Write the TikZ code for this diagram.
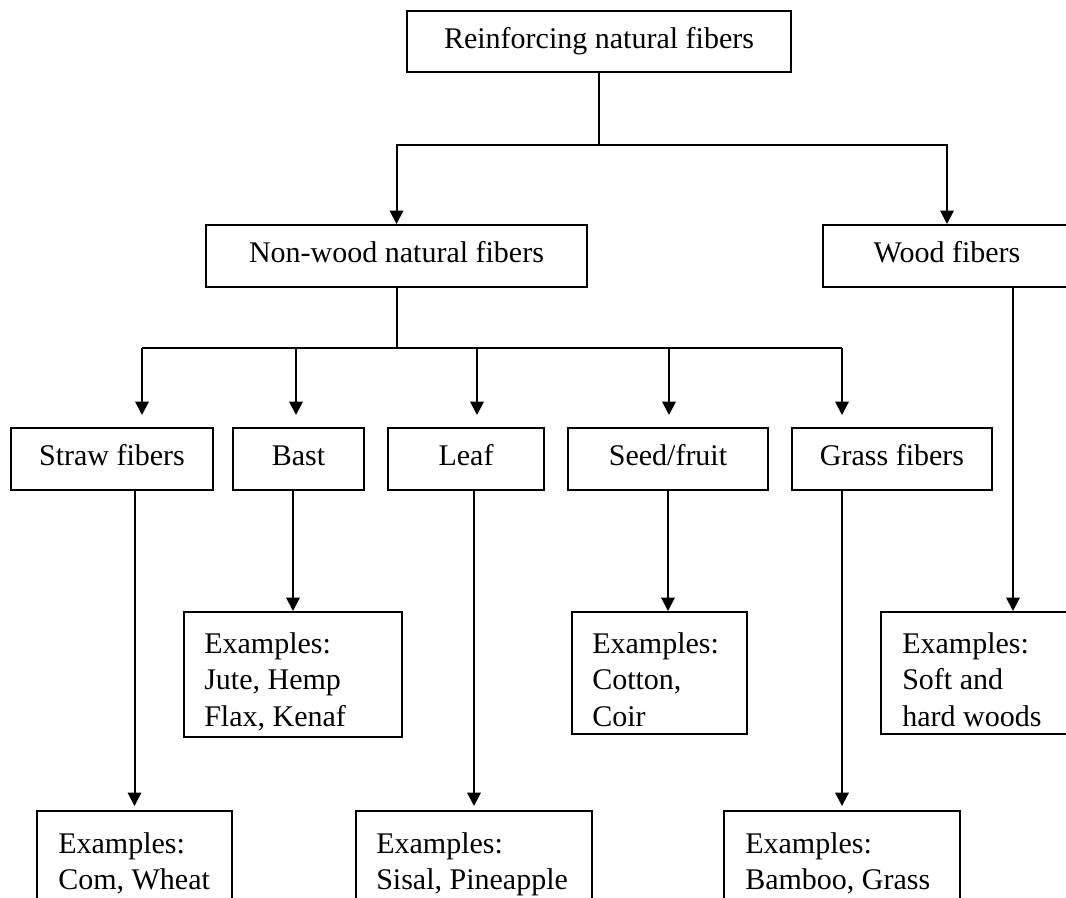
\documentclass[tikz,border=0pt]{standalone}
\usepackage{fontspec}
\setmainfont{Liberation Serif}
\usetikzlibrary{arrows.meta}
\begin{document}
\begin{tikzpicture}[x=0.75pt,y=-0.75pt,
  every node/.style={font=\fontsize{22.5pt}{27.4pt}\selectfont},
  box/.style={draw,line width=1.5pt,inner sep=0pt,text height=15.3pt,text depth=4.95pt,minimum height=46.5pt},
  exbox/.style={draw,line width=1.5pt,inner sep=0pt},
  extext/.style={anchor=north west,inner sep=0pt,align=left},
  link/.style={line width=1.5pt},
  arr/.style={line width=1.5pt,-{Triangle[width=10pt,length=10pt]}}]
\useasboundingbox (0,0) rectangle (1066,897);
\clip (0,0) rectangle (1066,897);
% level 1
\node[box,minimum width=288pt,minimum height=45.75pt] (top) at (599,41.5) {Reinforcing natural fibers};
% level 2
\node[box,minimum width=285.75pt] (nonwood) at (396.5,256) {Non-wood natural fibers};
\node[box,minimum width=186pt] (wood) at (947,256) {Wood fibers};
% level 3
\node[box,minimum width=151.5pt] (straw) at (112,459) {Straw fibers};
\node[box,minimum width=98.25pt] (bast) at (298.5,459) {Bast};
\node[box,minimum width=117pt] (leaf) at (466,459) {Leaf};
\node[box,minimum width=150pt] (seed) at (668,459) {Seed/fruit};
\node[box,minimum width=150pt] (grass) at (892,459) {Grass fibers};
% examples
\node[exbox,minimum width=163.5pt,minimum height=93.75pt] (exbast) at (293,674.5) {};
\node[extext] (exbastT) at (204,632) {Examples:\\Jute, Hemp\\Flax, Kenaf};
\node[exbox,minimum width=131.25pt,minimum height=91.5pt] (exseed) at (659.5,673) {};
\node[extext] (exseedT) at (592,632) {Examples:\\Cotton,\\Coir};
\node[exbox,minimum width=201.75pt,minimum height=91.5pt] (exwood) at (1015.5,673) {};
\node[extext] (exwoodT) at (902,632) {Examples:\\Soft and\\hard woods};
\node[exbox,minimum width=146.25pt,minimum height=104.25pt] (exstraw) at (134.5,880.5) {};
\node[extext] (exstrawT) at (58,832) {Examples:\\Com, Wheat};
\node[exbox,minimum width=177pt,minimum height=104.25pt] (exleaf) at (474,880.5) {};
\node[extext] (exleafT) at (376,832) {Examples:\\Sisal, Pineapple};
\node[exbox,minimum width=177pt,minimum height=104.25pt] (exgrass) at (842,880.5) {};
\node[extext] (exgrassT) at (745,832) {Examples:\\Bamboo, Grass};
% connectors level 1 -> 2
\coordinate (j1) at (599,145);
\draw[link] (top.south) -- (j1);
\draw[arr] (j1) -| (nonwood.north);
\draw[arr] (j1) -| (wood.north);
% connectors level 2 -> 3
\coordinate (j2) at (396.5,348);
\coordinate (a1) at (142,348);
\coordinate (a2) at (296,348);
\coordinate (a3) at (477,348);
\coordinate (a4) at (669,348);
\coordinate (a5) at (842,348);
\draw[link] (nonwood.south) -- (j2);
\draw[link] (a1) -- (a5);
\draw[arr,shorten >=9pt] (a1) -- (a1 |- straw.north);
\draw[arr,shorten >=9pt] (a2) -- (a2 |- bast.north);
\draw[arr,shorten >=9pt] (a3) -- (a3 |- leaf.north);
\draw[arr,shorten >=9pt] (a4) -- (a4 |- seed.north);
\draw[arr,shorten >=9pt] (a5) -- (a5 |- grass.north);
% connectors level 3 -> examples
\draw[arr] (exbast.north |- bast.south) -- (exbast.north);
\draw[arr] (seed.south) -- (seed.south |- exseed.north);
\draw[arr,shorten >=3pt] (exstraw.north |- straw.south) -- (exstraw.north);
\draw[arr,shorten >=3pt] (exleaf.north |- leaf.south) -- (exleaf.north);
\draw[arr,shorten >=3pt] (exgrass.north |- grass.south) -- (exgrass.north);
\coordinate (w1) at (1013,287);
\draw[arr] (w1) -- (w1 |- exwood.north);
\end{tikzpicture}
\end{document}
